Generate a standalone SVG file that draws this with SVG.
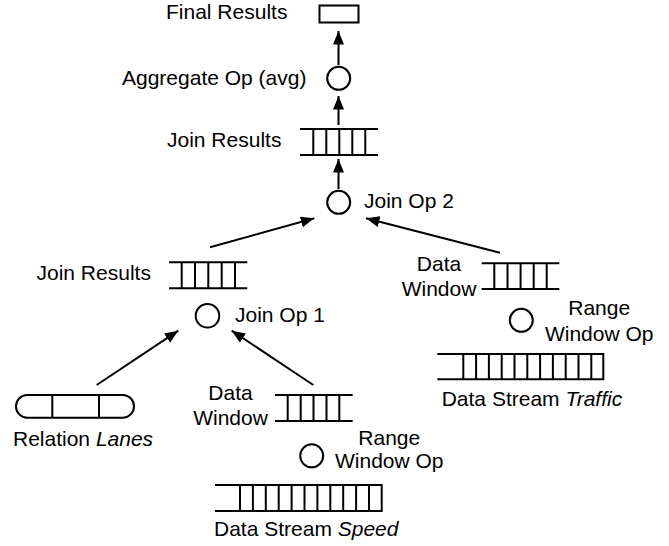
<svg xmlns="http://www.w3.org/2000/svg" width="669" height="546" viewBox="0 0 669 546">
<defs>
<style>
text{font-family:"Liberation Sans",Arial,sans-serif;font-size:21px;fill:#000}
.s{fill:none;stroke:#000;stroke-width:2}
.c{fill:#fff;stroke:#000;stroke-width:2}
.a{fill:none;stroke:#000;stroke-width:2;marker-end:url(#ah)}
.m{text-anchor:middle}
</style>
<marker id="ah" markerUnits="userSpaceOnUse" markerWidth="15" markerHeight="12" refX="13.5" refY="5.5" orient="auto">
<path d="M0,0 L13.5,5.5 L0,11 z" fill="#000"/>
</marker>
</defs>
<rect width="669" height="546" fill="#fff"/>
<g id="connectors">
<line class="a" x1="338.5" y1="65" x2="338.5" y2="31"/>
<line class="a" x1="338.5" y1="125" x2="338.5" y2="96"/>
<line class="a" x1="338.5" y1="189" x2="338.5" y2="159"/>
<line class="a" x1="210" y1="247.3" x2="314.3" y2="218.3"/>
<line class="a" x1="500" y1="252.7" x2="366" y2="218.3"/>
<line class="a" x1="96.7" y1="385" x2="178.3" y2="330.7"/>
<line class="a" x1="313.3" y1="385" x2="231.7" y2="330.7"/>
</g>
<g id="final-results">
<rect class="s" x="319.5" y="5.5" width="39" height="17"/>
<text x="166" y="19">Final Results</text>
</g>
<g id="aggregate-op">
<circle class="c" cx="338.7" cy="78.3" r="11.5"/>
<text x="122" y="85">Aggregate Op (avg)</text>
</g>
<g id="join-results-top">
<path class="s" d="M300,129H378M300,155H378M313.3,129V155M326.3,129V155M339.3,129V155M352.3,129V155M365.3,129V155"/>
<text x="167" y="147">Join Results</text>
</g>
<g id="join-op-2">
<circle class="c" cx="338.7" cy="202.3" r="11.5"/>
<text x="364" y="208.3">Join Op 2</text>
</g>
<g id="join-results-left">
<path class="s" d="M169,262.3H247.3M169,288.3H247.3M181.7,262.3V288.3M195,262.3V288.3M208.3,262.3V288.3M221.7,262.3V288.3M235,262.3V288.3"/>
<text x="36.5" y="280">Join Results</text>
</g>
<g id="join-op-1">
<circle class="c" cx="207.5" cy="315.8" r="11.8"/>
<text x="235" y="321.7">Join Op 1</text>
</g>
<g id="relation-lanes">
<rect class="s" x="16" y="395" width="118" height="22.7" rx="11.3" ry="11.3"/>
<path class="s" d="M52.3,395V417.7M99,395V417.7"/>
<text x="13" y="445.7">Relation <tspan font-style="italic">Lanes</tspan></text>
</g>
<g id="data-window-speed">
<path class="s" d="M275,395H352.7M275,421H352.7M287.7,395V421M300.7,395V421M313.5,395V421M326.5,395V421M339.3,395V421"/>
<text class="m" x="230.5" y="400">Data</text>
<text class="m" x="230.5" y="425">Window</text>
</g>
<g id="range-window-op-speed">
<circle class="c" cx="311.7" cy="455.8" r="11.5"/>
<text class="m" x="389.3" y="445">Range</text>
<text class="m" x="389.3" y="468.3">Window Op</text>
</g>
<g id="data-stream-speed">
<path class="s" d="M215,485H382.7M215,511H382.7M240,485V511M252.9,485V511M265.8,485V511M278.7,485V511M291.6,485V511M304.5,485V511M317.4,485V511M330.3,485V511M343.2,485V511M356.1,485V511M369,485V511M381.7,485V511"/>
<text x="214" y="536">Data Stream <tspan font-style="italic">Speed</tspan></text>
</g>
<g id="data-window-traffic">
<path class="s" d="M481.7,263.3H559.3M481.7,289H559.3M494.3,263.3V289M507.5,263.3V289M520.6,263.3V289M533.7,263.3V289M546.7,263.3V289"/>
<text class="m" x="439" y="270.7">Data</text>
<text class="m" x="439" y="295.7">Window</text>
</g>
<g id="range-window-op-traffic">
<circle class="c" cx="521.3" cy="320.3" r="11.5"/>
<text class="m" x="599.2" y="315">Range</text>
<text class="m" x="599.2" y="340.7">Window Op</text>
</g>
<g id="data-stream-traffic">
<path class="s" d="M437.3,354H604.3M437.3,379.3H604.3M463.3,354V379.3M476.1,354V379.3M488.9,354V379.3M501.7,354V379.3M514.5,354V379.3M527.3,354V379.3M540.1,354V379.3M552.9,354V379.3M565.7,354V379.3M578.5,354V379.3M591.3,354V379.3M603.3,354V379.3"/>
<text x="441.7" y="405.7">Data Stream <tspan font-style="italic">Traffic</tspan></text>
</g>
</svg>
